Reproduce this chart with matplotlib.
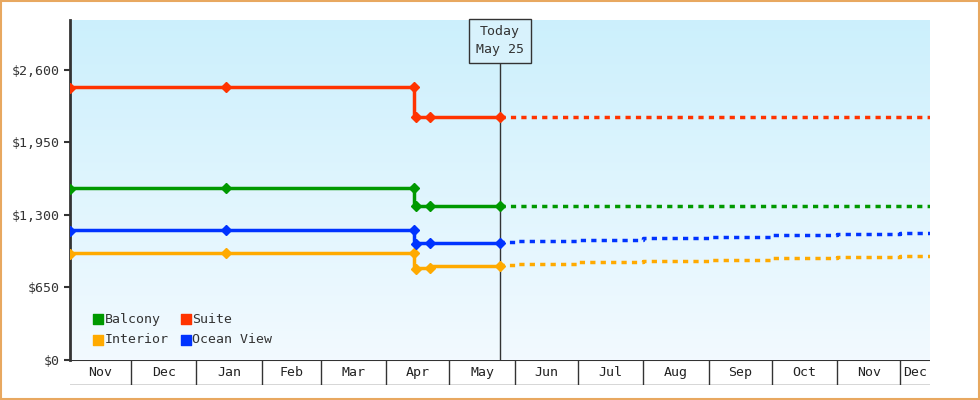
import datetime as dt
import numpy as np
import matplotlib.pyplot as plt
import matplotlib.dates as mdates

plt.rcParams['font.family'] = ['DejaVu Sans Mono']

def d(s):
    return dt.datetime.strptime(s, '%Y-%m-%d')

# history (solid), step-after
hist_dates = ['2024-11-02', '2025-01-15', '2025-04-14', '2025-04-15', '2025-04-22', '2025-05-25']
balcony = [1533, 1542, 1542, 1381, 1381, 1381]
suite = [2439, 2448, 2448, 2179, 2179, 2179]
ocean = [1157, 1166, 1166, 1040, 1049, 1049]
interior = [950, 959, 959, 816, 825, 843]

# forecast (dotted)
fc_dates = ['2025-05-25', '2025-06-01', '2025-07-01', '2025-08-01', '2025-09-01',
            '2025-10-01', '2025-11-01', '2025-12-01', '2025-12-15']
balcony_fc = [1381] * 9
suite_fc = [2179] * 9
ocean_fc = [1049, 1055, 1068, 1080, 1093, 1106, 1118, 1131, 1139]
interior_fc = [843, 850, 862, 875, 888, 900, 912, 925, 932]

series = [('Balcony', balcony, balcony_fc, '#009900'),
          ('Suite', suite, suite_fc, '#ff3300'),
          ('Interior', interior, interior_fc, '#ffaa00'),
          ('Ocean View', ocean, ocean_fc, '#0033ff')]

months = ['2024-11-01', '2024-12-01', '2025-01-01', '2025-02-01', '2025-03-01', '2025-04-01',
          '2025-05-01', '2025-06-01', '2025-07-01', '2025-08-01', '2025-09-01', '2025-10-01',
          '2025-11-01', '2025-12-01']
month_labels = ['Nov', 'Dec', 'Jan', 'Feb', 'Mar', 'Apr', 'May', 'Jun', 'Jul', 'Aug', 'Sep', 'Oct', 'Nov', 'Dec']
yticks = [0, 650, 1300, 1950, 2600]

x0, x1 = d('2024-11-02'), d('2025-12-15')
today = d('2025-05-25')

fig = plt.figure(figsize=(9.8, 4), dpi=100)
fig.patch.set_facecolor('white')
fig.patches.append(plt.Rectangle((0.001, 0.002), 0.998, 0.996, transform=fig.transFigure,
                                 fill=False, edgecolor='#e8a860', linewidth=1.5))

ax = fig.add_axes([70 / 980, 40 / 400, 860 / 980, 340 / 400])
ax.set_xlim(x0, x1)
ax.set_ylim(0, 3048)
grad = np.linspace(0, 1, 256).reshape(-1, 1, 1)
c_top = np.array([0.80, 0.94, 0.99])
c_bot = np.array([0.95, 0.98, 1.0])
img = c_bot + (c_top - c_bot) * grad
ax.imshow(img, aspect='auto', origin='lower',
          extent=[mdates.date2num(x0), mdates.date2num(x1), 0, 3048], zorder=0)

for name, h, f, c in series:
    hd = [d(s) for s in hist_dates]
    ax.step(hd, h, where='pre', color=c, lw=2.5, zorder=3)
    ax.plot(hd, h, 'D', color=c, ms=5, zorder=4)
    ax.step([d(s) for s in fc_dates], f, where='pre', color=c, lw=2.5, ls=(0, (1.5, 1.5)), zorder=3)

ax.axvline(today, color='#333333', lw=1, zorder=2)
ax.text(today, 2860, 'Today\nMay 25', ha='center', va='center', fontsize=9.5, color='#333333',
        linespacing=1.5, zorder=5,
        bbox=dict(boxstyle='square,pad=0.5', fc='#d8f2fc', ec='#333333', lw=1))

ax.set_yticks(yticks)
ax.set_yticklabels(['$' + format(v, ',') for v in yticks], fontsize=9.5, color='#333333')
ax.tick_params(axis='y', length=4, width=1.5, color='#333333')
ax.set_xticks([])
for s in ['top', 'right', 'bottom']:
    ax.spines[s].set_visible(False)
ax.spines['left'].set_linewidth(2)
ax.spines['left'].set_color('#333333')

# legend
for i, (name, h, f, c) in enumerate(series):
    col, row = i % 2, i // 2
    lx = 0.033 + col * 0.102
    ly = 0.12 - row * 0.06
    ax.scatter([lx], [ly], marker='s', s=50, color=c, transform=ax.transAxes, zorder=6)
    ax.text(lx + 0.007, ly, name, transform=ax.transAxes, va='center', fontsize=9.5, color='#333333', zorder=6)

# month cells
bx = fig.add_axes([70 / 980, 15 / 400, 860 / 980, 25 / 400])
bx.set_xlim(x0, x1)
bx.set_ylim(0, 1)
bx.axis('off')
bx.axhline(1, color='#333333', lw=1.5)
bx.axhline(0, color='#333333', lw=1)
md = [d(s) for s in months] + [x1]
for i, lab in enumerate(month_labels):
    a = max(md[i], x0)
    b = md[i + 1]
    if i > 0:
        bx.plot([a, a], [0, 1], color='#333333', lw=1)
    bx.text(a + (b - a) / 2, 0.5, lab, ha='center', va='center', fontsize=9.5, color='#222222')

fig.savefig('out.png', dpi=100)
